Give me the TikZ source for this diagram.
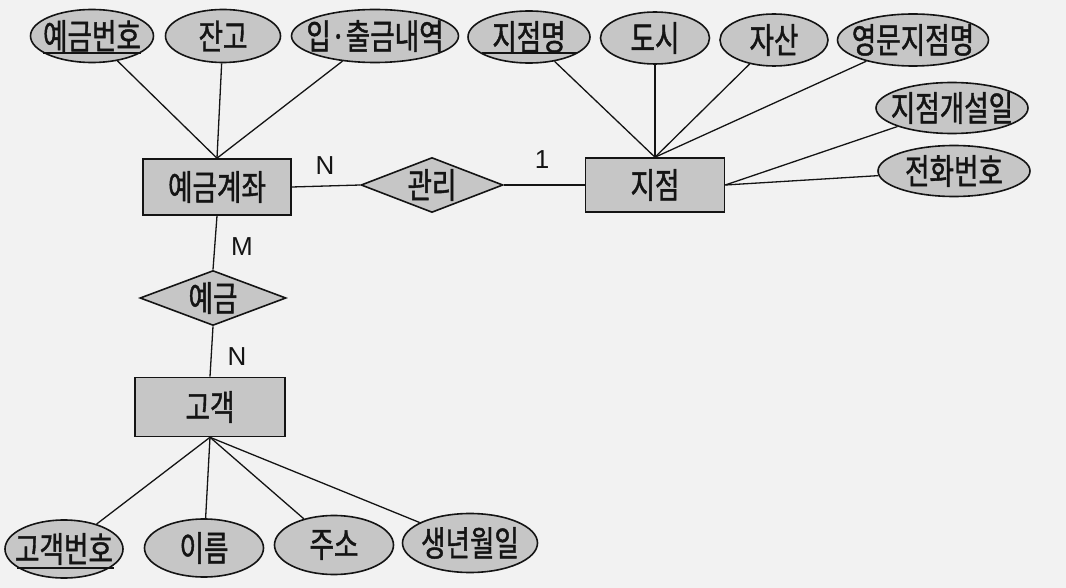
\documentclass[tikz,border=0pt]{standalone}
\usepackage{fontspec}
\setmainfont{Liberation Sans}
\newfontfamily\kr{Noto Sans CJK KR}[FakeStretch=0.76,FakeBold=1.2]
\usetikzlibrary{shapes.geometric}
\definecolor{bg}{HTML}{F2F2F2}
\definecolor{shade}{HTML}{C6C6C6}
\definecolor{ink}{HTML}{141414}
\tikzset{
  krtext/.style={font=\kr\fontsize{35}{37}\selectfont, text=ink},
  attr/.style={ellipse, draw=ink, fill=shade, line width=1.6pt, inner sep=0pt,
    minimum height=53pt, label={[krtext]center:#1}},
  entity/.style={rectangle, draw=ink, fill=shade, line width=1.6pt, inner sep=0pt,
    krtext},
  rel/.style={diamond, draw=ink, fill=shade, line width=1.6pt, inner sep=0pt,
    minimum width=142pt, minimum height=55pt, label={[krtext]center:#1}},
  conn/.style={draw=ink, line width=1.3pt},
  card/.style={font=\fontsize{26}{28}\selectfont, text=ink, inner sep=0pt},
  keyline/.style={draw=ink, line width=1.5pt}
}
\begin{document}
\begin{tikzpicture}[x=1pt,y=-1pt]
\fill[bg] (0,0) rectangle (1066,588);
\useasboundingbox (0,0) rectangle (1066,588);

% entities
\node[entity, minimum width=148pt, minimum height=56pt] (acct) at (217,187) {예금계좌};
\node[entity, minimum width=139pt, minimum height=54pt] (branch) at (655,185) {지점};
\node[entity, minimum width=150pt, minimum height=59pt] (cust) at (210,407) {고객};

% relationships
\node[rel=관리] (manage) at (432,185) {};
\node[rel=예금, minimum width=146pt] (deposit) at (213,298) {};

% attributes of 예금계좌
\node[attr=예금번호, minimum width=123pt] (accno) at (92,36) {};
\node[attr=잔고, minimum width=115pt] (bal) at (223,36) {};
\node[attr=입·출금내역, minimum width=167pt] (hist) at (375,36) {};

% attributes of 지점
\node[attr=지점명, minimum width=122pt, minimum height=52pt] (bname) at (529,37) {};
\node[attr=도시, minimum width=109pt, minimum height=52pt] (city) at (655,38) {};
\node[attr=자산, minimum width=108pt, minimum height=52pt] (asset) at (774,40) {};
\node[attr=영문지점명, minimum width=151pt, minimum height=52pt] (ename) at (913,40) {};
\node[attr=지점개설일, minimum width=152pt, minimum height=51pt] (opened) at (952,108) {};
\node[attr=전화번호, minimum width=152pt, minimum height=51pt] (phone) at (954,171) {};

% attributes of 고객
\node[attr=고객번호, minimum width=118pt, minimum height=58pt] (cno) at (64,549) {};
\node[attr=이름, minimum width=119pt, minimum height=58pt] (cname) at (204,548) {};
\node[attr=주소, minimum width=119pt, minimum height=59pt] (addr) at (334,545) {};
\node[attr=생년월일, minimum width=135pt, minimum height=59pt] (birth) at (470,543) {};

% key underlines
\draw[keyline] ([shift={(-49,17)}]accno.center) -- ([shift={(49,17)}]accno.center);
\draw[keyline] ([shift={(-47,16)}]bname.center) -- ([shift={(48,16)}]bname.center);
\draw[keyline] ([shift={(-47,19)}]cno.center) -- ([shift={(50,19)}]cno.center);

% connectors
\draw[conn] (acct.north) -- (accno);
\draw[conn] (acct.north) -- (bal);
\draw[conn] (acct.north) -- (hist);
\draw[conn] (branch.north) -- (bname);
\draw[conn] (branch.north) -- (city);
\draw[conn] (branch.north) -- (asset);
\draw[conn] (branch.north) -- (ename);
\draw[conn] (branch.east) -- (opened);
\draw[conn] (branch.east) -- (phone);
\draw[conn] (acct.east) -- (manage.west);
\draw[conn] (manage.east) -- (branch.west);
\draw[conn] (acct.south) -- (deposit.north);
\draw[conn] (deposit.south) -- (cust.north);
\draw[conn] (cust.south) -- (cno);
\draw[conn] (cust.south) -- (cname);
\draw[conn] (cust.south) -- (addr);
\draw[conn] (cust.south) -- (birth);

% cardinalities
\node[card] (cN1) at (325,166) {N};
\node[card] (c1) at (542,160) {1};
\node[card] (cM) at (242,247) {M};
\node[card] (cN2) at (237,357) {N};
\end{tikzpicture}
\end{document}
